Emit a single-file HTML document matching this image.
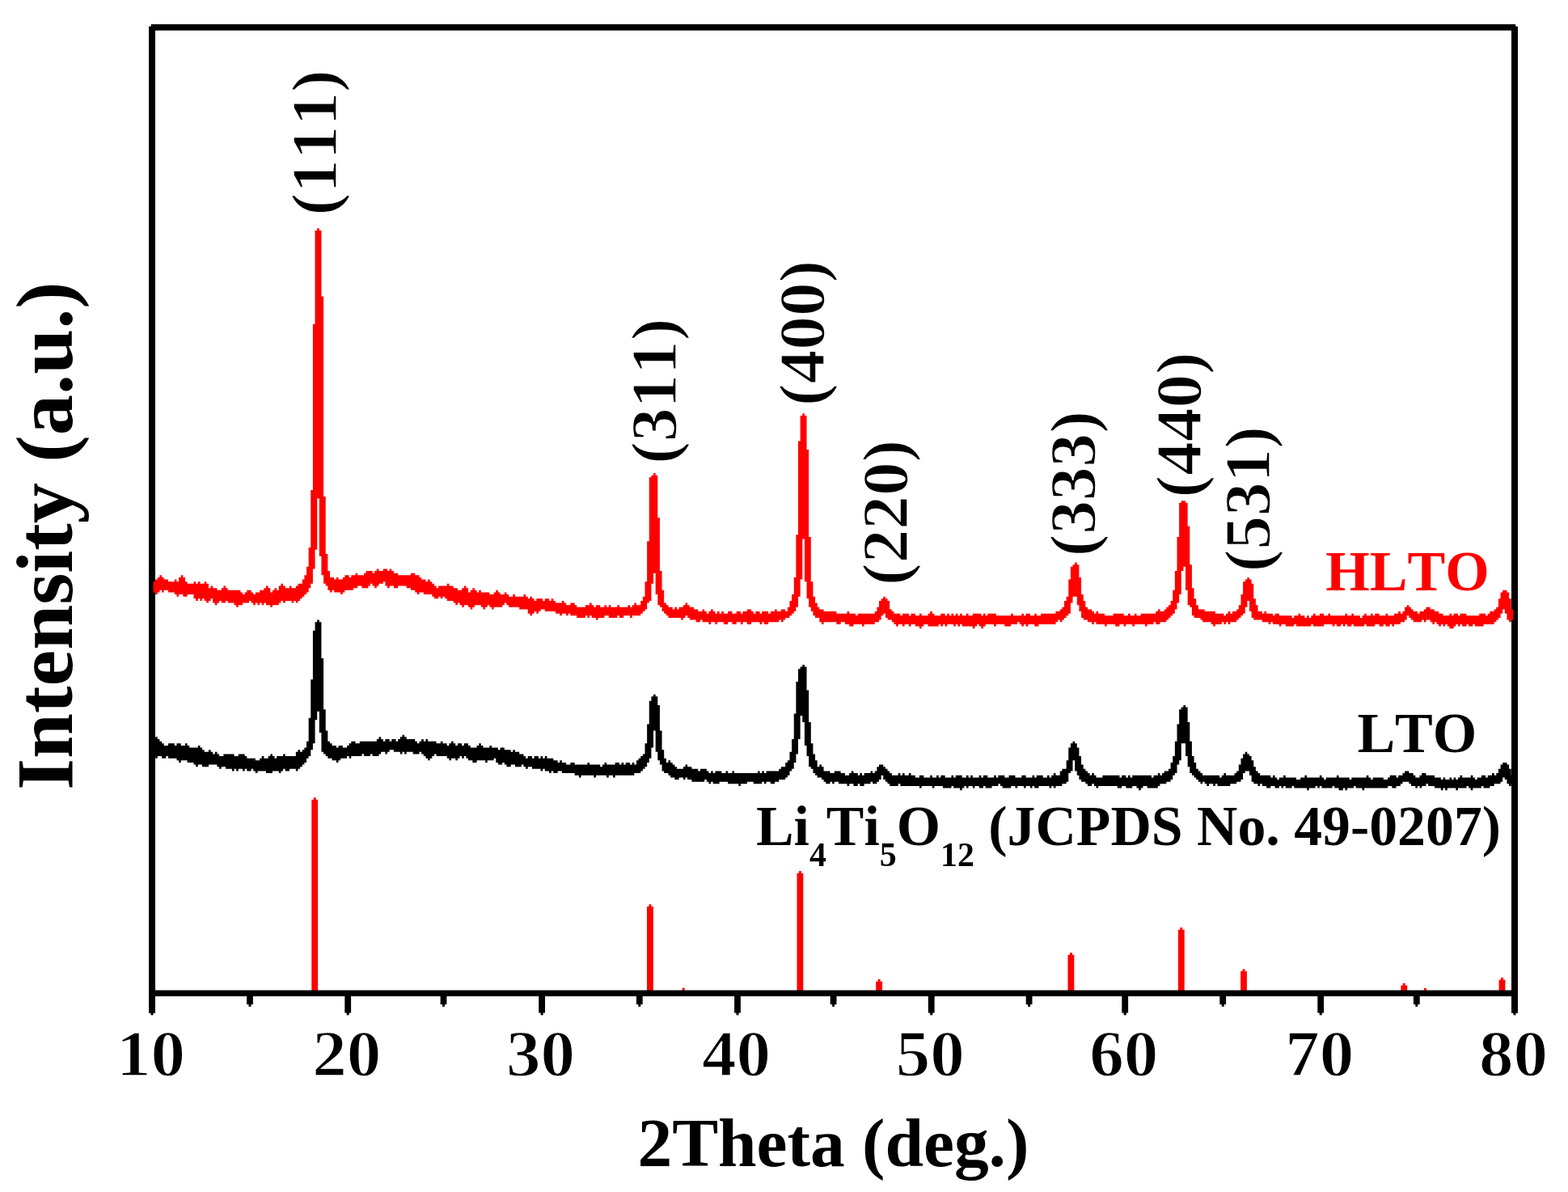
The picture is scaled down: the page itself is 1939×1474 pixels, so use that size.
<!DOCTYPE html>
<html lang="en">
<head>
<meta charset="utf-8">
<title>XRD patterns of HLTO and LTO</title>
<style>
html,body{margin:0;padding:0;background:#fff;}
body{width:1939px;height:1474px;overflow:hidden;}
svg{display:block;}
text{font-family:'Liberation Serif', 'DejaVu Serif', serif;font-weight:bold;font-kerning:none;}
</style>
</head>
<body>
<svg width="1939" height="1474" viewBox="0 0 1939 1474">
<rect x="0" y="0" width="1939" height="1474" fill="#ffffff"/>
<g fill="#ff0000">
<rect x="385.3" y="988.9" width="7.8" height="237.1"/>
<rect x="387.7" y="986.2" width="3" height="3"/>
<rect x="800.0" y="1121.0" width="7.8" height="105.0"/>
<rect x="802.4" y="1118.3" width="3" height="3"/>
<rect x="843.7" y="1221.6" width="3.0" height="4.4"/>
<rect x="985.5" y="1079.8" width="7.8" height="146.2"/>
<rect x="987.9" y="1077.1" width="3" height="3"/>
<rect x="1083.2" y="1213.6" width="7.8" height="12.4"/>
<rect x="1085.6" y="1210.9" width="3" height="3"/>
<rect x="1320.5" y="1180.7" width="7.8" height="45.3"/>
<rect x="1322.9" y="1178.0" width="3" height="3"/>
<rect x="1456.9" y="1149.6" width="7.8" height="76.4"/>
<rect x="1459.3" y="1146.9" width="3" height="3"/>
<rect x="1534.1" y="1201.1" width="7.8" height="24.9"/>
<rect x="1536.5" y="1198.4" width="3" height="3"/>
<rect x="1732.4" y="1218.5" width="7.8" height="7.5"/>
<rect x="1734.8" y="1215.8" width="3" height="3"/>
<rect x="1760.9" y="1221.8" width="3.0" height="4.2"/>
<rect x="1853.6" y="1211.5" width="7.8" height="14.5"/>
<rect x="1856.0" y="1208.8" width="3" height="3"/>
</g>
<g fill="#000000">
<rect x="186.8" y="30" width="1687.4" height="7.7"/>
<rect x="184" y="1224.5" width="1693" height="7.5"/>
<rect x="184" y="32.6" width="8" height="1219.9"/>
<rect x="1869" y="32.6" width="8" height="1219.9"/>
<rect x="184.1" y="1228" width="7.8" height="24.5"/>
<rect x="186.5" y="1252" width="3" height="3.3"/>
<rect x="426.3" y="1228" width="7.8" height="24.5"/>
<rect x="428.7" y="1252" width="3" height="3.3"/>
<rect x="666.2" y="1228" width="7.8" height="24.5"/>
<rect x="668.6" y="1252" width="3" height="3.3"/>
<rect x="908.1" y="1228" width="7.8" height="24.5"/>
<rect x="910.5" y="1252" width="3" height="3.3"/>
<rect x="1147.8" y="1228" width="7.8" height="24.5"/>
<rect x="1150.2" y="1252" width="3" height="3.3"/>
<rect x="1387.3" y="1228" width="7.8" height="24.5"/>
<rect x="1389.7" y="1252" width="3" height="3.3"/>
<rect x="1629.3" y="1228" width="7.8" height="24.5"/>
<rect x="1631.7" y="1252" width="3" height="3.3"/>
<rect x="1869.1" y="1228" width="7.8" height="24.5"/>
<rect x="1871.5" y="1252" width="3" height="3.3"/>
<rect x="305.1" y="1228" width="7.8" height="14"/>
<rect x="307.5" y="1241.5" width="3" height="3.3"/>
<rect x="544.6" y="1228" width="7.8" height="14"/>
<rect x="547.0" y="1241.5" width="3" height="3.3"/>
<rect x="786.9" y="1228" width="7.8" height="14"/>
<rect x="789.3" y="1241.5" width="3" height="3.3"/>
<rect x="1026.7" y="1228" width="7.8" height="14"/>
<rect x="1029.1" y="1241.5" width="3" height="3.3"/>
<rect x="1268.7" y="1228" width="7.8" height="14"/>
<rect x="1271.1" y="1241.5" width="3" height="3.3"/>
<rect x="1508.3" y="1228" width="7.8" height="14"/>
<rect x="1510.7" y="1241.5" width="3" height="3.3"/>
<rect x="1747.9" y="1228" width="7.8" height="14"/>
<rect x="1750.3" y="1241.5" width="3" height="3.3"/>
</g>
<path fill="#000000" d="M189.5 914H192.14V911.37H194.77V914H197.4V916.64H200.03V919.27H202.66V921.9H207.93V919.27H215.82V921.9H218.46V919.27H223.72V921.9H228.98V919.27H231.62V921.9H234.25V924.53H244.78V921.9H247.41V924.53H250.04V927.16H252.67V929.8H257.94V927.16H260.57V929.8H263.2V932.43H265.83V929.8H268.46V932.43H271.1V935.06H276.36V932.43H289.52V935.06H294.78V932.43H302.68V935.06H305.31V937.69H315.84V940.32H321.1V937.69H323.74V935.06H326.37V937.69H331.63V935.06H334.26V932.43H336.9V935.06H339.53V937.69H342.16V935.06H350.06V932.43H352.69V935.06H365.85V929.8H368.48V927.16H371.11V929.8H373.74V927.16H376.38V924.53H379.01V916.64H381.64V887.68H384.27V840.31H386.9V779.77H389.54V769.24H392.17V766.61H394.8V769.24H397.43V813.99H400.06V877.16H402.7V903.48H405.33V916.64H407.96V919.27H410.59V921.9H415.86V924.53H418.49V921.9H423.75V924.53H429.02V921.9H431.65V919.27H434.28V916.64H439.54V919.27H444.81V916.64H465.86V914H468.5V911.37H471.13V914H473.76V916.64H476.39V914H481.66V916.64H484.29V914H489.55V916.64H492.18V914H494.82V911.37H497.45V908.74H500.08V911.37H502.71V914H513.24V916.64H515.87V919.27H518.5V916.64H521.14V914H523.77V916.64H526.4V914H529.03V916.64H539.56V919.27H544.82V916.64H547.46V919.27H552.72V921.9H555.35V919.27H557.98V916.64H560.62V919.27H563.25V921.9H565.88V919.27H571.14V921.9H573.78V919.27H579.04V921.9H581.67V924.53H589.57V921.9H592.2V919.27H594.83V921.9H597.46V924.53H605.36V921.9H607.99V924.53H615.89V927.16H618.52V924.53H623.78V927.16H631.68V929.8H634.31V927.16H636.94V929.8H642.21V932.43H647.47V935.06H650.1V937.69H652.74V935.06H658V937.69H660.63V935.06H665.9V937.69H668.53V935.06H671.16V937.69H673.79V935.06H676.42V937.69H684.32V940.32H689.58V942.96H692.22V940.32H694.85V942.96H700.11V945.59H705.38V942.96H710.64V945.59H726.43V942.96H729.06V945.59H742.22V948.22H744.86V945.59H747.49V942.96H750.12V945.59H760.65V942.96H765.91V945.59H768.54V942.96H771.18V945.59H773.81V942.96H779.07V945.59H781.7V942.96H784.34V945.59H786.97V940.32H789.6V937.69H792.23V935.06H794.86V932.43H797.5V919.27H800.13V895.58H802.76V866.63H805.39V861.36H808.02V858.73H810.66V861.36H813.29V871.89H815.92V903.48H818.55V927.16H821.18V937.69H823.82V942.96H826.45V940.32H829.08V942.96H831.71V945.59H834.34V948.22H836.98V950.85H844.87V948.22H847.5V945.59H850.14V948.22H855.4V950.85H863.3V953.48H865.93V950.85H873.82V953.48H876.46V956.12H879.09V953.48H881.72V956.12H884.35V953.48H892.25V956.12H897.51V953.48H900.14V956.12H905.41V953.48H908.04V956.12H936.99V953.48H939.62V956.12H942.26V953.48H944.89V956.12H947.52V953.48H963.31V950.85H965.94V948.22H971.21V942.96H973.84V940.32H976.47V929.8H979.1V914H981.74V882.42H984.37V842.94H987V827.15H989.63V824.52H992.26V821.88H994.9V824.52H997.53V853.47H1000.16V892.95H1002.79V919.27H1005.42V932.43H1008.06V940.32H1010.69V948.22H1013.32V945.59H1015.95V948.22H1018.58V953.48H1026.48V956.12H1031.74V953.48H1039.64V956.12H1044.9V958.75H1050.17V956.12H1052.8V953.48H1055.43V956.12H1060.7V958.75H1063.33V956.12H1065.96V958.75H1068.59V956.12H1076.49V953.48H1079.12V956.12H1081.75V953.48H1084.38V948.22H1087.02V945.59H1092.28V948.22H1094.91V950.85H1097.54V953.48H1100.18V956.12H1102.81V958.75H1110.7V956.12H1113.34V958.75H1115.97V956.12H1118.6V958.75H1123.86V956.12H1126.5V958.75H1131.76V961.38H1137.02V958.75H1142.29V961.38H1150.18V958.75H1152.82V961.38H1158.08V958.75H1160.71V961.38H1163.34V958.75H1168.61V961.38H1176.5V958.75H1179.14V961.38H1181.77V958.75H1189.66V961.38H1194.93V958.75H1197.56V961.38H1200.19V958.75H1202.82V961.38H1210.72V958.75H1213.35V961.38H1215.98V958.75H1221.25V961.38H1229.14V958.75H1231.78V961.38H1234.41V958.75H1242.3V961.38H1247.57V958.75H1255.46V961.38H1263.36V958.75H1268.62V961.38H1276.52V958.75H1279.15V961.38H1281.78V958.75H1289.68V961.38H1294.94V958.75H1297.58V961.38H1300.21V958.75H1302.84V956.12H1305.47V958.75H1310.74V953.48H1313.37V950.85H1318.63V940.32H1321.26V924.53H1323.9V919.27H1326.53V916.64H1329.16V919.27H1331.79V924.53H1334.42V935.06H1337.06V945.59H1339.69V950.85H1342.32V953.48H1344.95V956.12H1347.58V958.75H1350.22V956.12H1352.85V958.75H1355.48V961.38H1363.38V958.75H1384.43V961.38H1387.06V958.75H1392.33V961.38H1394.96V958.75H1397.59V961.38H1400.22V958.75H1423.91V961.38H1426.54V958.75H1431.81V956.12H1434.44V958.75H1437.07V956.12H1439.7V953.48H1444.97V950.85H1447.6V942.96H1450.23V935.06H1452.86V916.64H1455.5V895.58H1458.13V877.16H1460.76V874.52H1463.39V871.89H1466.02V874.52H1468.66V892.95H1471.29V916.64H1473.92V935.06H1476.55V942.96H1479.18V950.85H1481.82V953.48H1484.45V956.12H1487.08V958.75H1508.14V961.38H1510.77V958.75H1513.4V956.12H1516.03V958.75H1526.56V956.12H1529.19V953.48H1531.82V945.59H1534.46V937.69H1537.09V932.43H1539.72V929.8H1542.35V932.43H1544.98V935.06H1547.62V940.32H1550.25V948.22H1552.88V953.48H1555.51V956.12H1558.14V958.75H1571.3V961.38H1573.94V958.75H1576.57V961.38H1579.2V964.01H1581.83V961.38H1587.1V958.75H1589.73V961.38H1602.89V964.01H1608.15V961.38H1613.42V958.75H1616.05V961.38H1631.84V958.75H1634.47V961.38H1637.1V964.01H1639.74V961.38H1652.9V958.75H1655.53V961.38H1668.69V964.01H1671.32V961.38H1689.74V958.75H1692.38V961.38H1695.01V964.01H1697.64V961.38H1710.8V964.01H1716.06V961.38H1718.7V958.75H1726.59V961.38H1729.22V958.75H1734.49V956.12H1737.12V953.48H1742.38V956.12H1747.65V958.75H1750.28V961.38H1755.54V958.75H1758.18V956.12H1763.44V958.75H1773.97V961.38H1781.86V964.01H1784.5V961.38H1787.13V964.01H1792.39V961.38H1795.02V964.01H1797.66V961.38H1800.29V964.01H1802.92V961.38H1805.55V958.75H1808.18V961.38H1818.71V958.75H1821.34V961.38H1823.98V964.01H1826.61V961.38H1831.87V958.75H1837.14V961.38H1839.77V958.75H1845.03V956.12H1847.66V958.75H1850.3V956.12H1852.93V950.85H1855.56V945.59H1858.19V942.96H1863.46V945.59H1866.09V950.85H1868.72V958.75H1871.35V969.28H1868.72V971.91H1866.09V969.28H1863.46V964.01H1860.82V961.38H1858.19V966.64H1855.56V969.28H1847.66V971.91H1842.4V974.54H1834.5V971.91H1831.87V974.54H1821.34V977.17H1818.71V974.54H1816.08V971.91H1813.45V974.54H1802.92V977.17H1800.29V974.54H1789.76V977.17H1787.13V974.54H1784.5V977.17H1781.86V974.54H1773.97V971.91H1766.07V969.28H1763.44V971.91H1758.18V974.54H1755.54V971.91H1752.91V974.54H1750.28V971.91H1745.02V969.28H1742.38V966.64H1734.49V969.28H1731.86V971.91H1726.59V974.54H1721.33V971.91H1716.06V974.54H1687.11V977.17H1684.48V974.54H1676.58V971.91H1673.95V974.54H1666.06V977.17H1663.42V974.54H1660.79V977.17H1655.53V974.54H1650.26V971.91H1647.63V974.54H1634.47V971.91H1631.84V974.54H1629.21V971.91H1626.58V974.54H1618.68V977.17H1616.05V974.54H1600.26V971.91H1597.62V974.54H1589.73V971.91H1587.1V974.54H1584.46V971.91H1581.83V974.54H1576.57V971.91H1571.3V974.54H1566.04V971.91H1560.78V969.28H1558.14V971.91H1555.51V969.28H1550.25V966.64H1547.62V958.75H1544.98V953.48H1539.72V956.12H1537.09V964.01H1534.46V966.64H1529.19V969.28H1521.3V971.91H1505.5V969.28H1502.87V971.91H1500.24V969.28H1494.98V971.91H1492.34V969.28H1489.71V966.64H1487.08V969.28H1484.45V966.64H1481.82V964.01H1479.18V961.38H1476.55V958.75H1473.92V956.12H1471.29V948.22H1468.66V935.06H1466.02V919.27H1460.76V940.32H1458.13V945.59H1455.5V956.12H1452.86V958.75H1450.23V964.01H1447.6V966.64H1442.34V969.28H1434.44V971.91H1431.81V974.54H1418.65V971.91H1413.38V974.54H1410.75V977.17H1408.12V974.54H1405.49V971.91H1400.22V974.54H1392.33V971.91H1387.06V974.54H1381.8V971.91H1358.11V974.54H1355.48V971.91H1352.85V969.28H1350.22V971.91H1344.95V969.28H1342.32V966.64H1337.06V964.01H1334.42V958.75H1331.79V953.48H1329.16V940.32H1326.53V953.48H1323.9V956.12H1321.26V966.64H1318.63V969.28H1313.37V971.91H1305.47V974.54H1302.84V971.91H1300.21V974.54H1297.58V971.91H1284.42V974.54H1279.15V971.91H1276.52V974.54H1273.89V971.91H1268.62V974.54H1265.99V971.91H1258.1V974.54H1255.46V971.91H1250.2V974.54H1239.67V971.91H1237.04V969.28H1234.41V971.91H1226.51V974.54H1218.62V971.91H1215.98V974.54H1210.72V971.91H1205.46V974.54H1202.82V971.91H1197.56V974.54H1194.93V971.91H1192.3V974.54H1189.66V977.17H1187.03V974.54H1179.14V971.91H1176.5V974.54H1165.98V971.91H1155.45V974.54H1152.82V971.91H1139.66V974.54H1137.02V971.91H1113.34V969.28H1110.7V971.91H1100.18V969.28H1097.54V966.64H1094.91V964.01H1092.28V958.75H1089.65V964.01H1087.02V966.64H1084.38V969.28H1079.12V966.64H1076.49V969.28H1068.59V971.91H1063.33V969.28H1060.7V971.91H1055.43V969.28H1050.17V971.91H1047.54V969.28H1037.01V966.64H1031.74V969.28H1029.11V966.64H1026.48V969.28H1021.22V966.64H1018.58V964.01H1015.95V961.38H1010.69V958.75H1008.06V956.12H1005.42V950.85H1002.79V948.22H1000.16V935.06H997.53V921.9H994.9V892.95H992.26V885.05H989.63V914H987V932.43H984.37V942.96H981.74V950.85H979.1V953.48H976.47V958.75H973.84V961.38H971.21V964.01H963.31V966.64H958.05V969.28H952.78V966.64H947.52V969.28H944.89V966.64H942.26V969.28H931.73V966.64H923.83V969.28H915.94V971.91H913.3V969.28H900.14V966.64H889.62V969.28H881.72V966.64H879.09V969.28H876.46V966.64H873.82V964.01H871.19V966.64H855.4V964.01H850.14V961.38H847.5V964.01H844.87V961.38H839.61V964.01H834.34V961.38H829.08V958.75H826.45V956.12H821.18V953.48H818.55V945.59H815.92V940.32H813.29V929.8H810.66V903.48H808.02V924.53H805.39V937.69H802.76V942.96H800.13V948.22H797.5V950.85H794.86V953.48H792.23V956.12H784.34V958.75H760.65V961.38H758.02V958.75H752.75V961.38H750.12V958.75H736.96V961.38H734.33V958.75H718.54V961.38H715.9V958.75H710.64V956.12H694.85V953.48H689.58V956.12H684.32V953.48H681.69V956.12H679.06V953.48H673.79V950.85H671.16V953.48H668.53V950.85H658V948.22H652.74V950.85H650.1V948.22H647.47V945.59H644.84V948.22H636.94V945.59H631.68V948.22H626.42V945.59H623.78V942.96H621.15V945.59H615.89V942.96H613.26V937.69H610.62V940.32H602.73V942.96H600.1V940.32H589.57V942.96H584.3V940.32H579.04V937.69H576.41V935.06H573.78V937.69H571.14V935.06H568.51V937.69H565.88V940.32H563.25V937.69H557.98V940.32H555.35V937.69H552.72V935.06H539.56V932.43H536.93V935.06H534.3V937.69H531.66V940.32H529.03V937.69H526.4V935.06H523.77V932.43H521.14V929.8H518.5V932.43H510.61V929.8H502.71V932.43H500.08V929.8H497.45V932.43H494.82V929.8H486.92V927.16H481.66V929.8H479.02V932.43H476.39V929.8H471.13V932.43H468.5V935.06H460.6V932.43H457.97V935.06H450.07V932.43H447.44V935.06H434.28V937.69H431.65V935.06H429.02V937.69H421.12V940.32H418.49V942.96H415.86V940.32H410.59V937.69H405.33V935.06H402.7V932.43H400.06V929.8H397.43V906.11H394.8V879.79H392.17V890.32H389.54V919.27H386.9V927.16H384.27V935.06H381.64V937.69H379.01V942.96H376.38V945.59H373.74V948.22H371.11V950.85H368.48V953.48H365.85V950.85H357.95V953.48H352.69V950.85H350.06V953.48H347.42V956.12H344.79V953.48H336.9V956.12H329V953.48H318.47V956.12H315.84V953.48H313.21V950.85H310.58V953.48H305.31V950.85H302.68V953.48H300.05V950.85H294.78V953.48H292.15V950.85H289.52V953.48H286.89V950.85H278.99V948.22H273.73V950.85H271.1V948.22H268.46V945.59H257.94V948.22H250.04V945.59H244.78V948.22H242.14V945.59H239.51V942.96H231.62V940.32H223.72V942.96H221.09V940.32H218.46V937.69H207.93V935.06H205.3V937.69H200.03V935.06H194.77V937.69H192.14V935.06H189.5Z"/>
<path fill="#ff0000" d="M189.5 719.24H192.14V716.6H194.77V713.97H197.4V711.34H200.03V713.97H202.66V716.6H207.93V719.24H215.82V716.6H218.46V719.24H221.09V713.97H223.72V711.34H226.35V713.97H228.98V719.24H231.62V721.87H239.51V719.24H242.14V721.87H244.78V719.24H247.41V721.87H252.67V719.24H255.3V721.87H257.94V727.13H260.57V724.5H263.2V727.13H268.46V729.76H273.73V727.13H276.36V724.5H278.99V727.13H281.62V729.76H297.42V732.4H300.05V735.03H302.68V732.4H305.31V729.76H310.58V732.4H313.21V735.03H315.84V732.4H321.1V729.76H326.37V727.13H329V724.5H331.63V727.13H334.26V732.4H336.9V729.76H339.53V727.13H342.16V729.76H344.79V724.5H347.42V721.87H350.06V724.5H352.69V727.13H357.95V724.5H360.58V727.13H365.85V724.5H368.48V721.87H373.74V716.6H376.38V711.34H379.01V700.81H381.64V677.12H384.27V606.06H386.9V400.76H389.54V284.96H392.17V282.32H394.8V284.96H397.43V366.55H400.06V613.96H402.7V685.02H405.33V706.08H407.96V713.97H413.22V716.6H415.86V713.97H418.49V716.6H423.75V713.97H426.38V711.34H431.65V713.97H434.28V711.34H439.54V708.71H442.18V711.34H450.07V708.71H452.7V706.08H460.6V708.71H463.23V706.08H465.86V703.44H468.5V706.08H473.76V703.44H479.02V706.08H481.66V703.44H484.29V706.08H486.92V708.71H492.18V711.34H507.98V708.71H513.24V711.34H518.5V713.97H521.14V716.6H526.4V719.24H529.03V716.6H531.66V719.24H534.3V721.87H536.93V724.5H539.56V727.13H542.19V724.5H552.72V721.87H555.35V724.5H560.62V727.13H565.88V729.76H571.14V727.13H573.78V724.5H576.41V727.13H579.04V732.4H581.67V729.76H584.3V727.13H586.94V729.76H589.57V732.4H592.2V729.76H594.83V732.4H605.36V735.03H610.62V732.4H613.26V729.76H615.89V732.4H618.52V735.03H623.78V732.4H626.42V735.03H629.05V737.66H634.31V735.03H636.94V737.66H647.47V735.03H650.1V737.66H652.74V740.29H655.37V737.66H658V740.29H660.63V742.92H663.26V740.29H671.16V742.92H673.79V740.29H679.06V742.92H681.69V740.29H684.32V742.92H686.95V745.56H694.85V742.92H697.48V745.56H700.11V748.19H705.38V745.56H710.64V748.19H713.27V750.82H723.8V748.19H729.06V745.56H731.7V748.19H734.33V750.82H736.96V748.19H742.22V750.82H747.49V748.19H750.12V750.82H752.75V748.19H755.38V750.82H763.28V748.19H765.91V750.82H776.44V748.19H779.07V750.82H781.7V748.19H784.34V745.56H786.97V748.19H792.23V742.92H794.86V737.66H797.5V719.24H800.13V669.23H802.76V590.27H805.39V587.64H808.02V585H810.66V587.64H813.29V640.28H815.92V706.08H818.55V729.76H821.18V745.56H823.82V748.19H826.45V750.82H831.71V753.45H834.34V750.82H836.98V753.45H839.61V750.82H844.87V748.19H847.5V745.56H850.14V748.19H852.77V750.82H858.03V753.45H863.3V756.08H868.56V753.45H871.19V756.08H873.82V758.72H876.46V756.08H879.09V753.45H881.72V756.08H884.35V758.72H886.98V756.08H889.62V758.72H892.25V756.08H894.88V758.72H900.14V756.08H905.41V758.72H910.67V756.08H915.94V758.72H918.57V756.08H923.83V753.45H929.1V756.08H931.73V758.72H934.36V756.08H939.62V758.72H942.26V756.08H950.15V758.72H952.78V756.08H958.05V753.45H960.68V756.08H965.94V753.45H971.21V756.08H973.84V750.82H976.47V742.92H979.1V735.03H981.74V713.97H984.37V661.33H987V545.52H989.63V513.94H992.26V511.31H994.9V513.94H997.53V556.05H1000.16V663.96H1002.79V719.24H1005.42V737.66H1008.06V745.56H1010.69V750.82H1013.32V753.45H1018.58V756.08H1034.38V758.72H1047.54V756.08H1050.17V758.72H1058.06V761.35H1060.7V758.72H1081.75V756.08H1084.38V750.82H1087.02V742.92H1089.65V740.29H1092.28V737.66H1094.91V740.29H1097.54V742.92H1100.18V753.45H1102.81V756.08H1105.44V758.72H1113.34V761.35H1115.97V758.72H1123.86V761.35H1126.5V758.72H1131.76V761.35H1137.02V758.72H1139.66V761.35H1147.55V758.72H1150.18V756.08H1152.82V758.72H1155.45V761.35H1163.34V758.72H1168.61V761.35H1171.24V758.72H1173.87V761.35H1176.5V758.72H1179.14V761.35H1181.77V758.72H1184.4V761.35H1187.03V758.72H1189.66V761.35H1194.93V758.72H1197.56V761.35H1202.82V758.72H1213.35V761.35H1215.98V758.72H1218.62V761.35H1221.25V758.72H1231.78V761.35H1250.2V758.72H1252.83V761.35H1263.36V758.72H1265.99V761.35H1268.62V758.72H1273.89V761.35H1279.15V758.72H1281.78V761.35H1287.05V758.72H1305.47V756.08H1310.74V753.45H1313.37V750.82H1316V742.92H1318.63V737.66H1321.26V716.6H1323.9V700.81H1326.53V698.18H1329.16V695.55H1331.79V698.18H1334.42V713.97H1337.06V735.03H1339.69V742.92H1342.32V750.82H1344.95V753.45H1350.22V756.08H1352.85V758.72H1355.48V756.08H1358.11V758.72H1366.01V761.35H1376.54V758.72H1389.7V761.35H1394.96V758.72H1397.59V761.35H1402.86V758.72H1405.49V761.35H1410.75V758.72H1429.18V756.08H1431.81V753.45H1434.44V756.08H1439.7V753.45H1442.34V750.82H1444.97V748.19H1447.6V742.92H1450.23V729.76H1452.86V706.08H1455.5V663.96H1458.13V621.85H1460.76V619.22H1466.02V621.85H1468.66V650.8H1471.29V698.18H1473.92V727.13H1476.55V740.29H1479.18V748.19H1481.82V753.45H1489.71V756.08H1502.87V758.72H1513.4V761.35H1516.03V758.72H1518.66V756.08H1521.3V758.72H1523.93V756.08H1529.19V753.45H1531.82V748.19H1534.46V735.03H1537.09V719.24H1539.72V716.6H1542.35V713.97H1544.98V716.6H1547.62V721.87H1550.25V740.29H1552.88V748.19H1555.51V756.08H1560.78V758.72H1563.41V756.08H1566.04V758.72H1573.94V761.35H1576.57V758.72H1581.83V761.35H1597.62V763.98H1600.26V761.35H1605.52V758.72H1608.15V761.35H1613.42V763.98H1616.05V761.35H1618.68V763.98H1621.31V761.35H1623.94V758.72H1626.58V761.35H1631.84V758.72H1637.1V761.35H1642.37V758.72H1645V761.35H1663.42V758.72H1666.06V761.35H1671.32V758.72H1673.95V761.35H1681.85V763.98H1684.48V761.35H1687.11V758.72H1689.74V761.35H1695.01V758.72H1697.64V761.35H1700.27V758.72H1705.54V761.35H1713.43V758.72H1716.06V761.35H1723.96V758.72H1729.22V756.08H1731.86V758.72H1734.49V756.08H1737.12V750.82H1739.75V748.19H1742.38V750.82H1745.02V753.45H1747.65V756.08H1752.91V758.72H1755.54V756.08H1760.81V753.45H1763.44V750.82H1768.7V753.45H1773.97V756.08H1779.23V758.72H1784.5V761.35H1792.39V758.72H1795.02V761.35H1797.66V758.72H1802.92V761.35H1805.55V758.72H1813.45V761.35H1829.24V758.72H1837.14V761.35H1839.77V758.72H1842.4V756.08H1847.66V753.45H1850.3V750.82H1852.93V740.29H1855.56V732.4H1858.19V729.76H1863.46V732.4H1866.09V740.29H1868.72V753.45H1871.35V766.61H1868.72V769.24H1866.09V766.61H1863.46V758.72H1860.82V753.45H1858.19V758.72H1855.56V763.98H1852.93V766.61H1850.3V769.24H1847.66V771.88H1834.5V774.51H1823.98V771.88H1821.34V774.51H1816.08V771.88H1813.45V774.51H1808.18V771.88H1805.55V774.51H1802.92V771.88H1800.29V774.51H1797.66V777.14H1792.39V774.51H1789.76V771.88H1787.13V774.51H1784.5V771.88H1781.86V774.51H1779.23V771.88H1776.6V769.24H1773.97V771.88H1771.34V769.24H1768.7V766.61H1763.44V769.24H1760.81V766.61H1758.18V769.24H1747.65V766.61H1745.02V763.98H1742.38V761.35H1739.75V766.61H1737.12V769.24H1731.86V771.88H1723.96V774.51H1721.33V771.88H1718.7V774.51H1713.43V771.88H1710.8V774.51H1705.54V771.88H1700.27V774.51H1689.74V771.88H1687.11V774.51H1673.95V771.88H1671.32V774.51H1666.06V771.88H1663.42V774.51H1660.79V771.88H1658.16V774.51H1652.9V771.88H1650.26V774.51H1647.63V771.88H1637.1V774.51H1623.94V771.88H1621.31V774.51H1602.89V771.88H1600.26V774.51H1589.73V771.88H1584.46V774.51H1581.83V771.88H1573.94V769.24H1571.3V771.88H1568.67V769.24H1560.78V766.61H1550.25V763.98H1547.62V756.08H1544.98V742.92H1542.35V750.82H1539.72V758.72H1537.09V761.35H1534.46V763.98H1531.82V766.61H1529.19V769.24H1521.3V771.88H1518.66V769.24H1516.03V771.88H1513.4V769.24H1510.77V771.88H1502.87V774.51H1500.24V771.88H1497.61V769.24H1487.08V766.61H1484.45V763.98H1476.55V761.35H1473.92V750.82H1471.29V748.19H1468.66V729.76H1466.02V700.81H1463.39V706.08H1460.76V735.03H1458.13V745.56H1455.5V753.45H1452.86V758.72H1450.23V761.35H1447.6V763.98H1444.97V766.61H1442.34V769.24H1434.44V771.88H1429.18V769.24H1426.54V771.88H1418.65V774.51H1416.02V771.88H1402.86V774.51H1400.22V771.88H1392.33V774.51H1389.7V771.88H1384.43V774.51H1379.17V771.88H1368.64V774.51H1366.01V771.88H1355.48V769.24H1352.85V771.88H1350.22V769.24H1344.95V766.61H1339.69V763.98H1337.06V756.08H1334.42V748.19H1331.79V737.66H1326.53V745.56H1323.9V758.72H1321.26V761.35H1318.63V763.98H1316V766.61H1313.37V769.24H1310.74V766.61H1308.1V769.24H1305.47V771.88H1284.42V774.51H1279.15V771.88H1271.26V774.51H1268.62V771.88H1265.99V774.51H1263.36V771.88H1260.73V769.24H1258.1V771.88H1250.2V774.51H1242.3V771.88H1231.78V774.51H1229.14V771.88H1218.62V774.51H1215.98V777.14H1213.35V774.51H1210.72V771.88H1208.09V774.51H1205.46V777.14H1202.82V774.51H1189.66V771.88H1187.03V774.51H1184.4V771.88H1181.77V774.51H1179.14V771.88H1171.24V774.51H1168.61V771.88H1165.98V774.51H1163.34V771.88H1160.71V774.51H1147.55V771.88H1142.29V774.51H1139.66V777.14H1137.02V774.51H1131.76V771.88H1126.5V774.51H1123.86V771.88H1118.6V774.51H1115.97V771.88H1110.7V774.51H1108.07V771.88H1105.44V769.24H1102.81V766.61H1097.54V763.98H1094.91V758.72H1092.28V761.35H1089.65V766.61H1087.02V769.24H1081.75V771.88H1068.59V774.51H1065.96V771.88H1055.43V774.51H1050.17V771.88H1044.9V769.24H1039.64V771.88H1034.38V769.24H1018.58V771.88H1015.95V769.24H1013.32V763.98H1008.06V761.35H1005.42V756.08H1002.79V750.82H1000.16V740.29H997.53V719.24H994.9V666.6H992.26V716.6H989.63V737.66H987V750.82H984.37V756.08H981.74V758.72H979.1V761.35H976.47V763.98H971.21V766.61H968.58V769.24H965.94V766.61H963.31V769.24H950.15V771.88H944.89V769.24H942.26V771.88H939.62V769.24H929.1V771.88H923.83V769.24H918.57V771.88H915.94V769.24H910.67V771.88H905.41V769.24H900.14V771.88H894.88V769.24H886.98V771.88H884.35V769.24H879.09V771.88H876.46V769.24H868.56V766.61H865.93V769.24H860.66V766.61H852.77V763.98H850.14V761.35H847.5V763.98H844.87V766.61H842.24V763.98H826.45V761.35H823.82V758.72H821.18V756.08H818.55V750.82H815.92V748.19H813.29V735.03H810.66V708.71H808.02V721.87H805.39V742.92H802.76V745.56H800.13V753.45H797.5V756.08H794.86V758.72H792.23V761.35H781.7V763.98H779.07V761.35H771.18V763.98H765.91V761.35H763.28V763.98H752.75V761.35H747.49V763.98H739.59V766.61H736.96V763.98H731.7V761.35H729.06V763.98H726.43V761.35H723.8V763.98H713.27V761.35H705.38V758.72H702.74V761.35H700.11V758.72H694.85V761.35H692.22V758.72H686.95V756.08H673.79V753.45H668.53V756.08H665.9V758.72H663.26V756.08H660.63V758.72H658V761.35H655.37V758.72H652.74V753.45H642.21V750.82H629.05V748.19H626.42V745.56H623.78V748.19H621.15V750.82H610.62V753.45H607.99V750.82H605.36V748.19H602.73V750.82H600.1V753.45H597.46V750.82H594.83V748.19H586.94V750.82H584.3V753.45H581.67V750.82H579.04V748.19H573.78V750.82H571.14V748.19H568.51V745.56H565.88V748.19H563.25V745.56H560.62V742.92H552.72V740.29H550.09V737.66H547.46V740.29H544.82V737.66H542.19V740.29H536.93V737.66H534.3V735.03H523.77V732.4H518.5V735.03H515.87V732.4H513.24V729.76H507.98V727.13H502.71V724.5H492.18V727.13H486.92V724.5H481.66V727.13H479.02V724.5H476.39V719.24H473.76V721.87H468.5V724.5H465.86V727.13H463.23V724.5H460.6V721.87H457.97V724.5H455.34V727.13H447.44V724.5H442.18V727.13H436.91V729.76H426.38V732.4H423.75V735.03H421.12V732.4H413.22V729.76H410.59V732.4H407.96V729.76H405.33V724.5H402.7V721.87H400.06V711.34H397.43V687.65H394.8V616.59H392.17V679.76H389.54V703.44H386.9V721.87H384.27V727.13H381.64V732.4H379.01V735.03H376.38V737.66H373.74V740.29H371.11V742.92H368.48V745.56H365.85V742.92H363.22V745.56H360.58V742.92H352.69V745.56H350.06V742.92H347.42V745.56H344.79V748.19H336.9V750.82H334.26V748.19H329V745.56H326.37V748.19H323.74V745.56H321.1V748.19H318.47V745.56H315.84V748.19H313.21V745.56H310.58V742.92H307.94V745.56H300.05V748.19H294.78V750.82H292.15V748.19H289.52V745.56H281.62V742.92H278.99V745.56H273.73V742.92H271.1V745.56H268.46V748.19H265.83V745.56H263.2V740.29H260.57V742.92H257.94V745.56H255.3V742.92H252.67V740.29H250.04V742.92H247.41V740.29H244.78V742.92H242.14V740.29H239.51V735.03H231.62V737.66H226.35V735.03H221.09V737.66H218.46V735.03H215.82V732.4H207.93V729.76H202.66V732.4H200.03V729.76H197.4V732.4H194.77V735.03H192.14V732.4H189.5Z"/>
<g font-size="81" text-anchor="middle" fill="#000000" stroke="#ffffff" stroke-width="1.4">
<text transform="translate(186.5 1330.0) scale(1.05 1)">10</text>
<text transform="translate(428.7 1330.0) scale(1.05 1)">20</text>
<text transform="translate(668.6 1330.0) scale(1.05 1)">30</text>
<text transform="translate(910.5 1330.0) scale(1.05 1)">40</text>
<text transform="translate(1150.2 1330.0) scale(1.05 1)">50</text>
<text transform="translate(1389.7 1330.0) scale(1.05 1)">60</text>
<text transform="translate(1631.7 1330.0) scale(1.05 1)">70</text>
<text transform="translate(1871.5 1330.0) scale(1.05 1)">80</text>
</g>
<text font-size="85" text-anchor="middle" transform="translate(1030.4 1441.5) scale(1.005 1)">2Theta (deg.)</text>
<text font-size="100" text-anchor="middle" transform="translate(88.5 662.6) rotate(-90) scale(1.0063 1)">Intensity (a.u.)</text>
<g font-size="80" text-anchor="middle" fill="#000000" stroke="#ffffff" stroke-width="1.4">
<text transform="translate(416.0 176.4) rotate(-90) scale(1.04 1)">(111)</text>
<text transform="translate(836.4 483.7) rotate(-90) scale(1.04 1)">(311)</text>
<text transform="translate(1019.0 411.9) rotate(-90) scale(1.04 1)">(400)</text>
<text transform="translate(1122.0 633.9) rotate(-90) scale(1.04 1)">(220)</text>
<text transform="translate(1353.8 598.2) rotate(-90) scale(1.04 1)">(333)</text>
<text transform="translate(1485.0 525.3) rotate(-90) scale(1.04 1)">(440)</text>
<text transform="translate(1570.0 617.2) rotate(-90) scale(1.04 1)">(531)</text>
</g>
<text font-size="70" fill="#ff0000" text-anchor="middle" transform="translate(1740.5 730.4) scale(1 1)">HLTO</text>
<text font-size="70" fill="#000000" text-anchor="middle" transform="translate(1752.3 929.5) scale(1 1)">LTO</text>
<text font-size="70" fill="#000000" transform="translate(935.0 1045.0) scale(0.997 1)" style="white-space:pre">Li<tspan font-size="42" dy="26">4</tspan><tspan dy="-26">Ti</tspan><tspan font-size="42" dy="26">5</tspan><tspan dy="-26">O</tspan><tspan font-size="42" dy="26">12</tspan><tspan dy="-26"> (JCPDS No. 49-0207)</tspan></text>
</svg>
</body>
</html>
